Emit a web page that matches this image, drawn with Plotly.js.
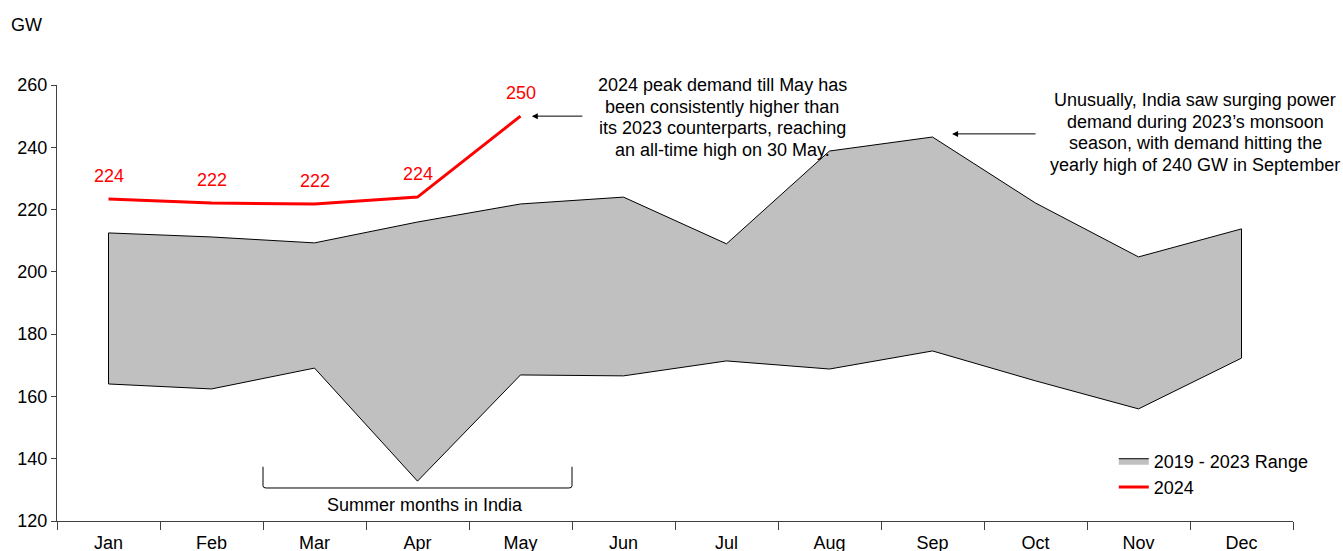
<!DOCTYPE html>
<html>
<head>
<meta charset="utf-8">
<script src="https://cdn.plot.ly/plotly-3.0.1.min.js"></script>
<style>html,body{margin:0;padding:0;background:#fff;}#chart{width:1343px;height:551px;}</style>
</head>
<body>
<div id="chart"></div>
<script>
const months = ["Jan","Feb","Mar","Apr","May","Jun","Jul","Aug","Sep","Oct","Nov","Dec"];
const rangeMax = [212.5,211.2,209.3,216.0,221.8,224.0,209.0,238.8,243.3,222.1,204.8,213.8];
const rangeMin = [164.0,162.4,169.1,132.8,166.9,166.6,171.4,168.8,174.6,165.0,156.0,172.3];
const months2024 = ["Jan","Feb","Mar","Apr","May"];
const demand2024 = [223.4,222.1,221.8,224.0,250.0];
const labels2024 = ["224","222","222","224","250"];
const note1Lines = ["2024 peak demand till May has","been consistently higher than","its 2023 counterparts, reaching","an all-time high on 30 May."];
const note2Lines = ["Unusually, India saw surging power","demand during 2023’s monsoon","season, with demand hitting the","yearly high of 240 GW in September"];

const FONT = "Liberation Sans, Arial, sans-serif";
const FS = 18;

const polyX = months.concat(months.slice().reverse(), [months[0]]);
const polyY = rangeMax.concat(rangeMin.slice().reverse(), [rangeMax[0]]);

const traces = [
  {
    x: polyX, y: polyY, type: "scatter", mode: "lines",
    fill: "toself", fillcolor: "#c0c0c0",
    line: {color: "#000000", width: 1},
    name: "2019 - 2023 Range", hoverinfo: "skip"
  },
  {
    x: months2024, y: demand2024, type: "scatter", mode: "lines",
    line: {color: "#ff0000", width: 3},
    name: "2024"
  }
];

const annotations = [];
months2024.forEach((m, i) => {
  annotations.push({
    x: m, y: demand2024[i], xref: "x", yref: "y",
    text: labels2024[i], showarrow: false, yshift: 23,
    font: {family: FONT, size: FS, color: "#ff0000"}
  });
});
note1Lines.forEach((t, i) => {
  annotations.push({xref: "x", yref: "y", x: 5.96, y: 260, yshift: -21.7 * i, showarrow: false,
    text: t, font: {family: FONT, size: FS, color: "#000"}});
});
note2Lines.forEach((t, i) => {
  annotations.push({xref: "x", yref: "y", x: 10.55, y: 255.2, yshift: -21.7 * i, showarrow: false,
    text: t, font: {family: FONT, size: FS, color: "#000"}});
});
annotations.push(
  {xref: "paper", yref: "paper", x: -0.0243, y: 1.138, xanchor: "center", yanchor: "middle",
   text: "GW", showarrow: false, font: {family: FONT, size: FS, color: "#000"}},
  {xref: "x", yref: "y", x: 4.11, y: 250.0, ax: 52, ay: 0, text: "", showarrow: true,
   arrowhead: 2, arrowsize: 1.2, arrowwidth: 1, arrowcolor: "#000"},
  {xref: "x", yref: "y", x: 8.19, y: 244.3, ax: 85, ay: 0, text: "", showarrow: true,
   arrowhead: 2, arrowsize: 1.2, arrowwidth: 1, arrowcolor: "#000"},
  {xref: "x", yref: "y", x: 3.07, y: 125.1, showarrow: false,
   text: "Summer months in India", font: {family: FONT, size: FS, color: "#000"}}
);

const shapes = [
  {type: "path", xref: "x", yref: "y",
   path: "M1.5,137.4 L1.5,131.3 Q1.5,130.6 1.53,130.6 L4.47,130.6 Q4.5,130.6 4.5,131.3 L4.5,137.4",
   line: {color: "#000", width: 1}}
];

const layout = {
  width: 1343, height: 551,
  margin: {l: 57, r: 50, t: 85, b: 30},
  paper_bgcolor: "#fff", plot_bgcolor: "#fff",
  showlegend: true,
  legend: {x: 0.855, y: 0.18, xanchor: "left", yanchor: "top", bgcolor: "rgba(0,0,0,0)",
           font: {family: FONT, size: FS, color: "#000"}, tracegroupgap: 0, itemwidth: 30},
  xaxis: {
    type: "category", categoryorder: "array", categoryarray: months,
    range: [-0.5, 11.5], showgrid: false, zeroline: false,
    showline: true, linecolor: "#404040", linewidth: 1,
    ticks: "outside", tickson: "boundaries", ticklen: 8, tickcolor: "#404040",
    ticklabelstandoff: 5,
    tickfont: {family: FONT, size: FS, color: "#000"}, fixedrange: true
  },
  yaxis: {
    range: [120, 260], dtick: 20, tick0: 120, showgrid: false, zeroline: false,
    showline: true, linecolor: "#404040", linewidth: 1,
    ticks: "outside", ticklen: 5, tickcolor: "#404040",
    tickfont: {family: FONT, size: FS, color: "#000"}, fixedrange: true
  },
  annotations: annotations,
  shapes: shapes
};

Plotly.newPlot("chart", traces, layout, {displayModeBar: false, staticPlot: true});
</script>
</body>
</html>
